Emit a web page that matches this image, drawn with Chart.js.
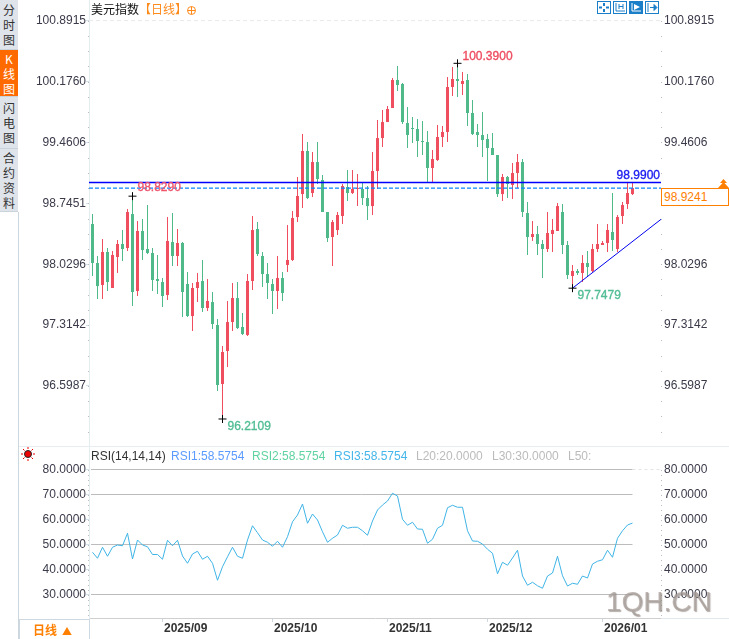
<!DOCTYPE html>
<html><head><meta charset="utf-8">
<script src="https://cdn.jsdelivr.net/npm/chart.js@4"></script>
<style>
html,body{margin:0;padding:0;background:#fff;width:729px;height:639px;overflow:hidden;font-family:"Liberation Sans",Arial,sans-serif}
canvas{position:absolute;left:0}
.a{position:absolute;white-space:nowrap}
.cjk{font-family:"Noto Sans CJK SC",sans-serif}
.tab{position:absolute;left:0;width:18px;background:#dfe3ea;color:#333;font:12px/15px "Noto Sans CJK SC",sans-serif;text-align:center;display:flex;flex-direction:column;justify-content:center;border-bottom:1px solid #c8d3dc;box-sizing:border-box}
.tab.on{background:#ff6a00;color:#fff}
.h{font-size:12px;top:449px;line-height:14px}
</style></head><body>
<canvas id="priceChart" width="729" height="446" style="top:0"></canvas>
<canvas id="rsiChart" width="729" height="193" style="top:446px"></canvas>

<div class="a" style="left:18px;top:212px;width:1px;height:427px;background:#ccd6de"></div>
<div class="tab" style="top:0;height:50px">分<br>时<br>图</div>
<div class="tab on" style="top:50px;height:47px">K<br>线<br>图</div>
<div class="tab" style="top:97px;height:52px">闪<br>电<br>图</div>
<div class="tab" style="top:149px;height:63px">合<br>约<br>资<br>料</div>

<div class="a cjk" style="left:91px;top:1px;font-size:12px;line-height:16px;color:#111">美元指数</div>
<div class="a cjk" style="left:139px;top:1px;font-size:12px;line-height:16px;color:#ff8a1c">【日线】</div>
<svg class="a" style="left:186px;top:5px" width="12" height="12"><circle cx="5.5" cy="5.5" r="4" fill="none" stroke="#ff8a1c"/><path d="M1.5 5.5H9.5M5.5 1.5V9.5" stroke="#ff8a1c"/></svg>

<svg class="a" style="left:597px;top:1px" width="63" height="13">
<g fill="none" stroke="#1a7fc8"><rect x=".5" y=".5" width="13" height="12"/><path d="M7 2V5M7 8V11M2 6.5H5M9 6.5H12" stroke-width="2"/>
<rect x="16.5" y=".5" width="13" height="12"/><path d="M19 2V10H28M22 3V8M26 3V8M22 5.5H26"/>
<rect x="32.5" y=".5" width="13" height="12" fill="#1a7fc8"/><path d="M35 2V10H44" stroke="#fff"/><path d="M37 3L43 6L37 9Z" fill="#fff" stroke="none"/>
<rect x="48.5" y=".5" width="13" height="12"/><path d="M51 2V11M53 6.5H58"/><path d="M57 3.5L60 6.5L57 9.5Z" fill="#1a7fc8"/></g></svg>

<svg class="a" style="left:21px;top:447px" width="14" height="14"><circle cx="7" cy="7" r="3.5" fill="#e00" stroke="#222"/><path d="M7 0V2M7 12V14M0 7H2M12 7H14M2 2L3.5 3.5M10.5 10.5L12 12M2 12L3.5 10.5M10.5 3.5L12 2" stroke="#e00"/></svg>

<div class="a h" style="left:91px;color:#333">RSI(14,14,14)</div>
<div class="a h" style="left:171px;color:#5b9bff">RSI1:58.5754</div>
<div class="a h" style="left:252px;color:#5fd3a0">RSI2:58.5754</div>
<div class="a h" style="left:334px;color:#45b6ea">RSI3:58.5754</div>
<div class="a h" style="left:416px;color:#bbb">L20:20.0000</div>
<div class="a h" style="left:492px;color:#bbb">L30:30.0000</div>
<div class="a h" style="left:568px;color:#bbb">L50:</div>

<div class="a" style="left:19px;top:446px;width:710px;height:1px;background:#e6eef2"></div>
<div class="a" style="left:661px;top:618px;width:68px;height:1px;background:#e3e8ec"></div>
<div class="a cjk" style="left:19px;top:619px;width:69px;height:19px;border:1px solid #cdd8e0;color:#ff8000;font-size:12px;line-height:19px;font-weight:bold"><span style="margin-left:13px">日线</span><span style="margin-left:5px;font-size:10px">▲</span></div>

<svg class="a" style="left:718px;top:179px" width="11" height="9"><path d="M5.5 0L9 4H2Z M5.5 3L11 9H0Z" fill="#ff8000"/></svg>
<div class="a" style="left:661px;top:188px;width:66px;height:16px;border:1px solid #ff8000;color:#ff8000;font-size:12px;line-height:16px;background:#fff"><span style="margin-left:2px">98.9241</span></div>

<div class="a" style="left:606px;top:583px;font-size:28px;line-height:38px;color:rgba(170,160,155,.75);text-shadow:1px 1px 1px rgba(120,110,105,.55)">1QH.CN</div>

<script>
const opens=[98.502,98.044,97.785,98.173,97.750,98.114,98.267,98.220,98.619,97.715,
98.420,98.208,98.161,97.856,97.820,97.668,98.290,98.126,98.279,97.797,
97.421,97.750,97.832,97.515,97.585,97.315,96.622,97.010,97.350,97.632,
97.292,97.198,97.832,98.443,98.126,97.914,97.797,97.715,97.867,98.020,
98.079,98.584,98.854,99.360,98.866,99.230,99.019,98.643,98.349,98.431,
98.596,98.937,98.866,98.913,98.913,98.807,98.713,99.125,99.512,99.700,
99.865,100.194,100.147,99.689,99.630,99.618,99.477,99.465,99.160,99.254,
99.524,99.583,100.112,100.206,100.147,100.194,99.806,99.583,99.548,99.501,
99.395,99.313,98.854,99.054,98.960,99.101,99.230,98.631,98.349,98.384,
98.267,98.208,98.384,98.420,98.643,98.255,97.891,97.950,97.926,98.044,
97.950,98.208,98.255,98.279,98.408,98.208,98.596,98.737,98.854];
const highs=[98.619,98.126,98.326,98.220,98.185,98.314,98.431,98.678,98.829,98.537,
98.561,98.725,98.220,98.138,97.867,98.584,98.631,98.443,98.290,97.938,
97.809,97.926,98.079,97.856,97.703,97.386,97.068,97.597,97.809,97.820,
97.456,97.914,98.596,98.525,98.173,98.044,97.856,98.126,97.938,98.490,
98.655,99.054,99.559,99.465,99.348,99.465,99.078,98.643,98.549,98.643,
98.972,99.136,99.136,99.089,98.995,98.948,99.348,99.724,99.841,99.888,
100.217,100.358,100.159,99.877,99.759,99.736,99.712,99.595,99.371,99.665,
99.653,100.229,100.347,100.390,100.288,100.264,99.959,99.677,99.818,99.559,
99.571,99.313,99.089,99.066,99.219,99.324,99.266,98.760,98.537,98.478,
98.314,98.643,98.561,98.749,98.737,98.302,98.020,97.973,98.138,98.185,
98.267,98.502,98.302,98.502,98.866,98.608,98.760,98.990,98.990];
const lows=[97.891,97.621,97.621,97.715,97.750,97.926,98.067,98.185,97.538,97.656,
98.079,98.149,97.715,97.679,97.527,97.609,98.008,98.008,97.409,97.409,
97.245,97.585,97.468,97.480,97.268,96.540,96.2109,96.822,97.245,97.268,
97.198,97.186,97.726,98.126,97.762,97.621,97.444,97.503,97.597,97.938,
98.067,98.525,98.690,98.796,98.819,98.972,98.643,98.290,98.008,98.373,
98.502,98.772,98.854,98.713,98.725,98.549,98.608,98.913,99.407,99.700,
99.865,100.065,99.677,99.395,99.454,99.289,99.313,98.995,98.995,99.242,
99.407,99.465,100.006,99.994,100.018,99.653,99.548,99.407,99.289,99.007,
99.313,98.819,98.772,98.807,98.796,98.925,98.584,98.138,98.302,98.138,
97.867,98.173,98.173,98.420,98.149,97.856,97.7479,97.903,97.820,97.879,
97.938,98.173,98.255,98.173,98.185,98.173,98.502,98.678,98.843];
const closes=[98.044,97.773,98.173,97.820,98.138,98.267,98.208,98.643,97.703,98.420,
98.196,98.161,97.844,97.832,97.656,98.302,98.126,98.279,97.703,97.421,
97.750,97.820,97.515,97.597,97.327,96.610,96.998,97.350,97.632,97.280,
97.209,97.832,98.431,98.149,97.914,97.809,97.715,97.867,97.691,98.079,
98.572,98.831,99.360,98.807,99.230,99.031,98.643,98.337,98.525,98.608,
98.948,98.866,98.913,98.925,98.807,98.713,99.125,99.512,99.700,99.853,
100.194,100.135,99.700,99.548,99.618,99.477,99.465,99.160,99.266,99.524,
99.583,100.112,100.206,100.182,100.182,99.806,99.559,99.548,99.489,99.395,
99.313,98.854,99.054,98.972,99.101,99.230,98.643,98.349,98.384,98.267,
98.208,98.396,98.431,98.713,98.255,97.903,97.950,97.926,98.044,97.997,
98.208,98.267,98.279,98.431,98.314,98.584,98.725,98.866,98.9241];
const rsi=[46.9,44.5,48.9,45.3,48.9,49.8,49.5,54.5,44.2,51.8,49.8,49.1,46,46,44.1,51.7,49.5,51.7,45.4,42.5,
46.2,47.3,44.1,45.3,42.5,35.7,41.1,45.1,48.9,45.3,44.5,51.8,57.5,54.7,51.8,50.9,49.3,51.3,48.9,53.1,
59.1,61.8,66.2,58.5,62.2,59.8,55.1,50.9,52.5,53.8,57.7,56.5,56.9,56.9,55.5,53.7,59.4,63.8,65.8,67.4,
70.5,69.4,60.1,57.7,58.9,56.2,56.1,50.5,52.1,56.5,57.7,64.7,65.7,64.9,64.9,55.5,51.4,51.3,50.2,48.1,
46.5,38.3,42.9,41.7,44.6,47.7,37.4,33.7,34.9,33.5,32.5,37.4,38.6,45.3,37.5,33.4,34.5,34.1,37.4,36.6,
42.2,43.3,43.9,47.7,44.9,52.5,55.5,57.8,58.5754];
const priceTicks=[100.8915,100.1760,99.4606,98.7451,98.0296,97.3142,96.5987];
const rightPriceTicks=[100.8915,100.1760,99.4606,98.0296,97.3142,96.5987];
const rsiTicks=[80,70,60,50,40,30];
const rsiLevels=[80,70,50,30];
const monthIndex=[14,36,59,79,102];
const monthLabels=["2025/09","2025/10","2025/11","2025/12","2026/01"];
const highMarks=[8,73];
const lowMarks=[26,96];
const resistance=98.99, lastPrice=98.9241, trendEnd=98.557;

const X_MIN=-0.7,X_MAX=113.7,P_MAX=101.134,P_MIN=95.8935,R_MAX=89.4,R_MIN=20.6;
const RED='#ef4e5f',GREEN='#4fb98a';
const idx=opens.map((_,i)=>i);
const col=idx.map(i=>closes[i]>=opens[i]?RED:GREEN);
const lastI=idx.length-1;

function noPad(s){s.paddingTop=0;s.paddingBottom=0;s.paddingLeft=0;s.paddingRight=0}
function fixW(w){return s=>{s.width=w;noPad(s)}}
function ticksFrom(list){return s=>{s.ticks=list.map(v=>({value:v}))}}
const lblFont={family:'"Liberation Sans",Arial,sans-serif',size:12};
function yAxis(pos,min,max,list,w){
  const left=pos==='left';
  return {type:'linear',position:pos,min,max,afterFit:fixW(w),afterBuildTicks:ticksFrom(list),
    border:{display:left,color:'#e3edf1'},
    grid:{drawOnChartArea:false,drawTicks:left,tickLength:3,tickColor:'#cfe3ee'},
    ticks:{autoSkip:false,padding:left?0:3,color:'#3a3a4a',font:lblFont,callback:v=>v.toFixed(4)}};
}
function dots(step){
  return {id:'dots',afterDraw(c){
    const g=c.ctx,y=c.scales.y;g.save();g.fillStyle='#bdbdbd';
    const a=c.chartArea;
    const top=y.ticks[0].value;
    for(let v=top;v>=y.min;v-=step){
      const p=Math.round(y.getPixelForValue(v));
      if(p<a.bottom-2){g.fillRect(a.left-1,p,1,1);g.fillRect(a.right,p,1,1);}
    }
    g.restore();
  }};
}
const marks=[
 {i:highMarks[0],v:highs[highMarks[0]],t:'98.8290',c:'#f0566c',dx:5,dy:-8},
 {i:highMarks[1],v:highs[highMarks[1]],t:'100.3900',c:'#ee4b5f',dx:5,dy:-7},
 {i:lowMarks[0],v:lows[lowMarks[0]],t:'96.2109',c:'#52bd95',dx:5,dy:8},
 {i:lowMarks[1],v:lows[lowMarks[1]],t:'97.7479',c:'#52bd95',dx:5,dy:8}];
function txt(g,t,x,y,c){g.fillStyle=c;g.strokeStyle=c;g.lineWidth=.35;g.fillText(t,x,y);g.strokeText(t,x,y);}
const labelPlugin={id:'lbl',afterDatasetsDraw(c){
  const g=c.ctx,x=c.scales.x,y=c.scales.y;g.save();g.font='12px "Liberation Sans",Arial,sans-serif';g.textBaseline='middle';
  marks.forEach(m=>txt(g,m.t,x.getPixelForValue(m.i)+m.dx,y.getPixelForValue(m.v)+m.dy,m.c));
  g.textAlign='right';txt(g,resistance.toFixed(4),c.chartArea.right-1,y.getPixelForValue(resistance)-7,'#1a1af0');
  g.restore();
}};
const barBase={type:'bar',grouped:false,inflateAmount:0,borderWidth:0,xAxisID:'x',yAxisID:'y'};
const lineBase={type:'line',tension:0,pointRadius:0,fill:false,xAxisID:'x',yAxisID:'y'};

new Chart(document.getElementById('priceChart'),{
 type:'bar',
 data:{datasets:[
  {...lineBase,order:0,showLine:false,pointRadius:4,pointStyle:'cross',pointBorderColor:'#000',pointBorderWidth:1,borderColor:'#000',
   data:[...highMarks.map(i=>({x:i,y:highs[i]})),...lowMarks.map(i=>({x:i,y:lows[i]}))]},
  {...lineBase,order:1,borderColor:'#0000ee',borderWidth:1,data:[{x:lowMarks[1],y:lows[lowMarks[1]]},{x:X_MAX,y:trendEnd}]},
  {...lineBase,order:1,borderColor:'#0000ff',borderWidth:1.5,data:[{x:X_MIN,y:resistance},{x:X_MAX,y:resistance}]},
  {...lineBase,order:1,borderColor:'#0a84ff',borderWidth:1.2,borderDash:[4,2],data:[{x:X_MIN,y:lastPrice},{x:X_MAX,y:lastPrice}]},
  {...lineBase,order:4,borderColor:'#e9e9e9',borderWidth:1,borderDash:[4,3],data:[{x:X_MIN,y:priceTicks[0]},{x:X_MAX,y:priceTicks[0]}]},
  {...barBase,order:2,barThickness:3,minBarLength:1,backgroundColor:col,data:idx.map(i=>({x:i,y:[opens[i],closes[i]]}))},
  {...barBase,order:3,barThickness:1,backgroundColor:col,data:idx.map(i=>({x:i,y:[lows[i],highs[i]]}))}
 ]},
 options:{responsive:false,animation:false,devicePixelRatio:1,layout:{padding:0,autoPadding:false},events:[],
  plugins:{legend:{display:false},tooltip:{enabled:false}},
  scales:{
   x:{type:'linear',display:false,min:X_MIN,max:X_MAX,offset:false,grid:{offset:false}},
   y:yAxis('left',P_MIN,P_MAX,priceTicks,89),
   yR:yAxis('right',P_MIN,P_MAX,rightPriceTicks,68)
  }},
 plugins:[dots((priceTicks[0]-priceTicks[1])/4),labelPlugin]
});

new Chart(document.getElementById('rsiChart'),{
 type:'line',
 data:{datasets:[
  ...rsiLevels.map(l=>({...lineBase,order:3,borderColor:'#bcbcbc',borderWidth:1,data:[{x:-0.3,y:l},{x:lastI,y:l}]})),
  {...lineBase,order:3,borderColor:'#e4e4e4',borderWidth:1,borderDash:[3,3],data:[{x:lastI,y:rsiLevels[0]},{x:X_MAX,y:rsiLevels[0]}]},
  {...lineBase,order:1,borderColor:'#3fb4e6',borderWidth:1,data:idx.map(i=>({x:i,y:rsi[i]}))}
 ]},
 options:{responsive:false,animation:false,devicePixelRatio:1,layout:{padding:0,autoPadding:false},events:[],
  plugins:{legend:{display:false},tooltip:{enabled:false}},
  scales:{
   x:{type:'linear',min:X_MIN,max:X_MAX,offset:false,afterFit:s=>{s.height=21;noPad(s)},afterBuildTicks:ticksFrom(monthIndex),
      border:{color:'#cfcfcf'},
      grid:{drawOnChartArea:false,tickLength:4,tickColor:'#cfd8de'},
      ticks:{autoSkip:false,maxRotation:0,align:'start',labelOffset:1.5,padding:-1,color:'#333',
        font:{family:lblFont.family,size:12,weight:'bold'},callback:v=>monthLabels[monthIndex.indexOf(v)]}},
   y:yAxis('left',R_MIN,R_MAX,rsiTicks,89),
   yR:yAxis('right',R_MIN,R_MAX,rsiTicks,68)
  }},
 plugins:[dots(2)]
});
</script>
</body></html>
